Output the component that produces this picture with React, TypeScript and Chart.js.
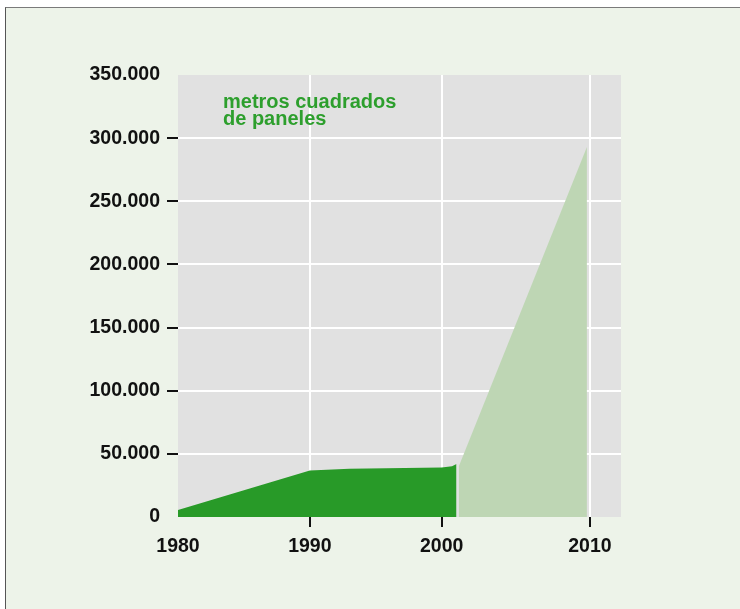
import React, { useEffect, useRef } from "react";
import { Chart, LinearScale, registerables } from "chart.js";

// ---- data ----
const DARK_YEARS = [1980, 1990, 1993, 2000, 2000.7, 2001];
const DARK_VALUES = [5500, 36800, 38200, 39200, 40200, 42000];
const LIGHT_YEARS = [2001.15, 2009.8];
const LIGHT_VALUES = [40000, 293000];
const X_TICKS = [1980, 1990, 2000, 2010];
const X_TICK_LABELS = ["1980", "1990", "2000", "2010"];
const Y_TICKS = [0, 50000, 100000, 150000, 200000, 250000, 300000, 350000];
const Y_TICK_LABELS = ["0", "50.000", "100.000", "150.000", "200.000", "250.000", "300.000", "350.000"];
const LABEL_LINES = ["metros cuadrados", "de paneles"];

// ---- style ----
const PAGE_BG = "#edf3e9";
const PLOT_BG = "#e1e1e1";
const DARK_GREEN = "#289a28";
const LIGHT_GREEN = "#bed6b4";
const TEXT_GREEN = "#2d9f2d";
const FONT_FAMILY = '"Liberation Sans", Arial, Helvetica, sans-serif';

// axis drawn wider after 2000 (as in the original graphic)
const BREAK_YEAR = 2000;
const STRETCH = 1.124;
const warp = (v: number) => (v <= BREAK_YEAR ? v : BREAK_YEAR + (v - BREAK_YEAR) * STRETCH);
const unwarp = (w: number) => (w <= BREAK_YEAR ? w : BREAK_YEAR + (w - BREAK_YEAR) / STRETCH);

class SplitLinearScale extends LinearScale {
  static id = "splitLinear";
  static defaults = LinearScale.defaults;
  getPixelForValue(value: number) {
    const a = warp(this.min as number);
    const b = warp(this.max as number);
    return this.getPixelForDecimal((warp(value) - a) / (b - a));
  }
  getValueForPixel(pixel: number) {
    const a = warp(this.min as number);
    const b = warp(this.max as number);
    return unwarp(a + this.getDecimalForPixel(pixel) * (b - a));
  }
}

Chart.register(...registerables, SplitLinearScale);

const plotBgPlugin = {
  id: "plotBg",
  beforeDraw(chart: any) {
    const { ctx, chartArea } = chart;
    ctx.save();
    ctx.fillStyle = PLOT_BG;
    ctx.fillRect(chartArea.left, chartArea.top, chartArea.right - chartArea.left, chartArea.bottom - chartArea.top);
    ctx.restore();
  },
};

const labelPlugin = {
  id: "seriesLabel",
  afterDatasetsDraw(chart: any) {
    const { ctx, chartArea } = chart;
    ctx.save();
    ctx.font = `bold 20px ${FONT_FAMILY}`;
    ctx.fillStyle = TEXT_GREEN;
    ctx.textBaseline = "alphabetic";
    ctx.textAlign = "left";
    LABEL_LINES.forEach((line, i) => {
      ctx.fillText(line, chartArea.left + 45, chartArea.top + 33 + i * 16.7);
    });
    ctx.restore();
  },
};

export default function App() {
  const ref = useRef<HTMLCanvasElement | null>(null);

  useEffect(() => {
    if (!ref.current) return;
    const tickFont = { family: FONT_FAMILY, size: 19.5, weight: "bold" as const, lineHeight: 1.2 };
    const chart = new Chart(ref.current, {
      type: "line",
      data: {
        datasets: [
          {
            label: "dark",
            data: DARK_YEARS.map((x, i) => ({ x, y: DARK_VALUES[i] })),
            backgroundColor: DARK_GREEN,
            borderColor: "rgba(0,0,0,0)",
            borderWidth: 0,
            pointRadius: 0,
            fill: "origin",
            tension: 0,
          },
          {
            label: "light",
            data: LIGHT_YEARS.map((x, i) => ({ x, y: LIGHT_VALUES[i] })),
            backgroundColor: LIGHT_GREEN,
            borderColor: "rgba(0,0,0,0)",
            borderWidth: 0,
            pointRadius: 0,
            fill: "origin",
            tension: 0,
          },
        ],
      },
      options: {
        responsive: false,
        animation: false,
        events: [],
        layout: { padding: { left: 0, top: 75, right: 119, bottom: 52 } },
        plugins: {
          legend: { display: false },
          tooltip: { enabled: false },
        },
        scales: {
          x: {
            type: "splitLinear" as any,
            min: 1980,
            max: 2012.1,
            afterBuildTicks: (scale: any) => {
              scale.ticks = X_TICKS.map((value) => ({ value }));
            },
            afterFit: (scale: any) => {
              scale.height = 40;
            },
            border: { display: false },
            grid: {
              color: (ctx: any) => (ctx.tick && ctx.tick.value === 1980 ? "rgba(0,0,0,0)" : "#ffffff"),
              tickColor: (ctx: any) => (ctx.tick && ctx.tick.value === 1980 ? "rgba(0,0,0,0)" : "#111111"),
              lineWidth: 2,
              tickWidth: 2,
              tickLength: 10,
            },
            ticks: {
              font: tickFont,
              color: "#111111",
              padding: 8,
              maxRotation: 0,
              autoSkip: false,
              callback: (v: any) => X_TICK_LABELS[X_TICKS.indexOf(Number(v))] ?? "",
            },
          },
          y: {
            type: "linear",
            min: 0,
            max: 350000,
            afterBuildTicks: (scale: any) => {
              scale.ticks = Y_TICKS.map((value) => ({ value }));
            },
            afterFit: (scale: any) => {
              scale.width = 178;
            },
            border: { display: false },
            grid: {
              color: (ctx: any) =>
                ctx.tick && (ctx.tick.value === 0 || ctx.tick.value === 350000) ? "rgba(0,0,0,0)" : "#ffffff",
              tickColor: (ctx: any) =>
                ctx.tick && (ctx.tick.value === 0 || ctx.tick.value === 350000) ? "rgba(0,0,0,0)" : "#111111",
              lineWidth: 2,
              tickWidth: 2,
              tickLength: 11,
            },
            ticks: {
              font: tickFont,
              color: "#111111",
              padding: 7,
              autoSkip: false,
              callback: (v: any) => Y_TICK_LABELS[Y_TICKS.indexOf(Number(v))] ?? "",
            },
          },
        },
      },
      plugins: [plotBgPlugin, labelPlugin],
    });
    return () => chart.destroy();
  }, []);

  return (
    <div style={{ position: "fixed", left: 0, top: 0, width: 740, height: 609, background: "#ffffff", overflow: "hidden" }}>
      <div
        style={{
          position: "absolute",
          left: 5,
          top: 7,
          width: 800,
          height: 700,
          background: PAGE_BG,
          borderTop: "1px solid #7a7a7a",
          borderLeft: "1px solid #555555",
        }}
      />
      <canvas ref={ref} width={740} height={609} style={{ position: "absolute", left: 0, top: 0, width: 740, height: 609 }} />
    </div>
  );
}
